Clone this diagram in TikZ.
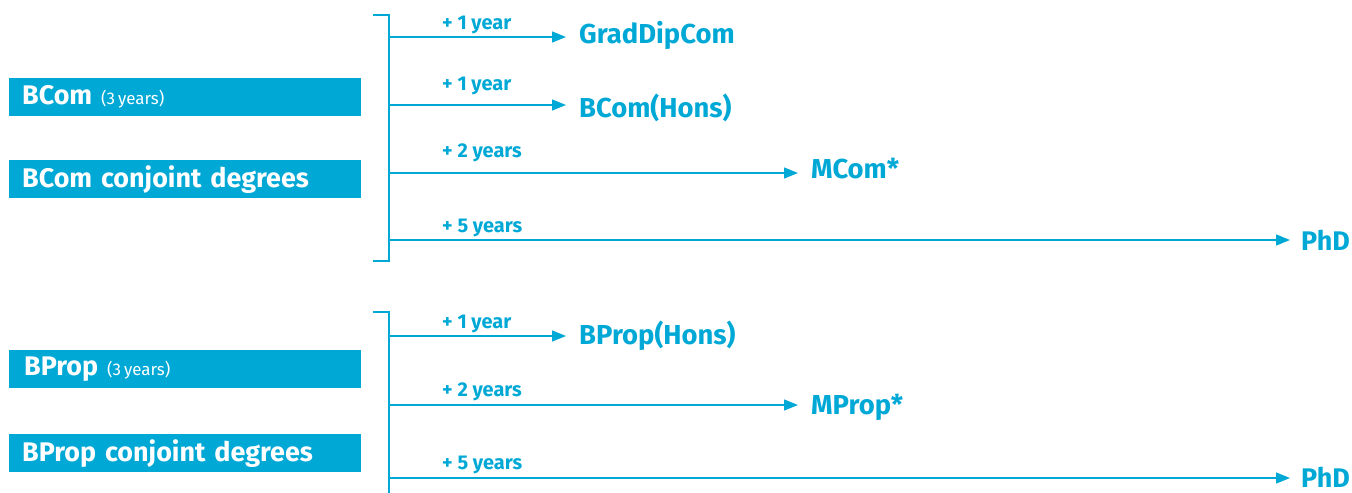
\documentclass[tikz,border=0pt]{standalone}
\usepackage{fontspec}
\setmainfont{Fira Sans}
\usetikzlibrary{arrows.meta}
\definecolor{uoa}{RGB}{0,168,214}
\tikzset{
  degbox/.style={fill=uoa, text=white, anchor=north west, minimum height=38bp,
    text width=326bp, inner xsep=13bp, inner ysep=0pt, align=left,
    font=\fontsize{27}{29}\selectfont\bfseries},
  target/.style={text=uoa, anchor=west, inner sep=0pt,
    font=\fontsize{27.5}{29}\selectfont\bfseries},
  dur/.style={text=uoa, anchor=south west, inner sep=0pt,
    font=\fontsize{20}{22}\selectfont\bfseries},
  brk/.style={draw=uoa, line width=1.3bp},
  arr/.style={draw=uoa, line width=1.3bp, -{Triangle[length=14bp,width=11bp]}, shorten >=13bp}
}
\newcommand{\yrs}{{\fontsize{17}{19}\selectfont\mdseries (3\hspace{3bp}years)}}
\newcommand{\dn}[1]{\raisebox{-3.5bp}{#1}}
\begin{document}
\begin{tikzpicture}[x=1bp,y=-1bp]
\useasboundingbox (0,0) rectangle (1352,493);
% ---------- group 1 ----------
\node[degbox] (bcom) at (9,78) {\dn{BCom \yrs}};
\node[degbox] (bcomc) at (9,160) {\dn{BCom conjoint degrees}};
\coordinate (t1a) at (373,15);
\coordinate (t1b) at (389,15);
\coordinate (u1a) at (373,261);
\coordinate (u1b) at (389,261);
\draw[brk] (t1a) -- (t1b) -- (u1b) -- (u1a);
\coordinate (s11) at (389,37);
\coordinate (s12) at (389,105);
\coordinate (s13) at (389,173);
\coordinate (s14) at (389,240);
\node[target] (gdc) at (579,35) {GradDipCom};
\node[target] (bch) at (579,108) {BCom(Hons)};
\node[target] (mcom) at (811,169) {MCom*};
\node[target, font=\fontsize{27}{29}\selectfont\bfseries] (phd1) at (1301,240) {PhD};
\draw[arr] (s11) -- (s11 -| gdc.west);
\draw[arr] (s12) -- (s12 -| bch.west);
\draw[arr] (s13) -- (s13 -| mcom.west);
\draw[arr, shorten >=11bp] (s14) -- (s14 -| phd1.west);
\node[dur] (l11) at (442,34) {+ 1 year};
\node[dur] (l12) at (442,95) {+ 1 year};
\node[dur] (l13) at (442,162) {+ 2 years};
\node[dur] (l14) at (442,237) {+ 5 years};
% ---------- group 2 ----------
\node[degbox] (bprop) at (9,350) {\dn{\hspace*{2bp}BProp \yrs}};
\node[degbox] (bpropc) at (9,434) {\dn{BProp conjoint degrees}};
\coordinate (t2a) at (373,312);
\coordinate (t2b) at (389,312);
\coordinate (u2b) at (389,493);
\draw[brk] (t2a) -- (t2b) -- (u2b);
\coordinate (s21) at (389,336);
\coordinate (s22) at (389,405);
\coordinate (s23) at (389,478);
\node[target] (bph) at (579,336) {BProp(Hons)};
\node[target] (mprop) at (811,407) {MProp*};
\node[target, font=\fontsize{27}{29}\selectfont\bfseries] (phd2) at (1301,477) {PhD};
\draw[arr] (s21) -- (s21 -| bph.west);
\draw[arr] (s22) -- (s22 -| mprop.west);
\draw[arr, shorten >=11bp] (s23) -- (s23 -| phd2.west);
\node[dur] (l21) at (442,333) {+ 1 year};
\node[dur] (l22) at (442,401) {+ 2 years};
\node[dur] (l23) at (442,474) {+ 5 years};
\end{tikzpicture}
\end{document}
